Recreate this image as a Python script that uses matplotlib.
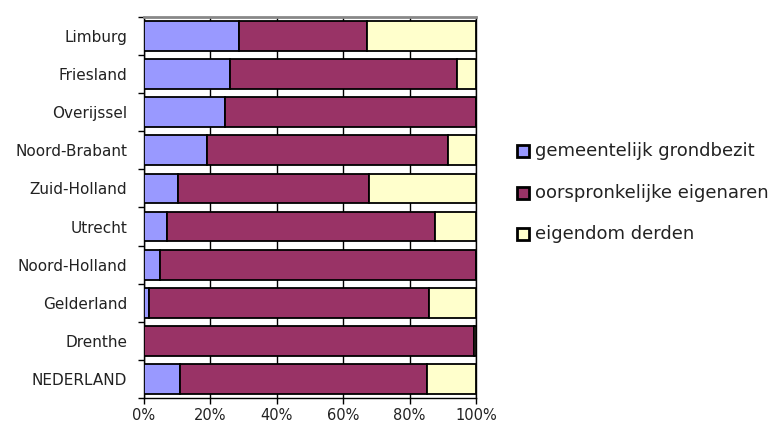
import matplotlib.pyplot as plt
from matplotlib.patches import Rectangle
from matplotlib.ticker import FixedLocator

# provinces, top to bottom as in the chart
provinces = ['Limburg', 'Friesland', 'Overijssel', 'Noord-Brabant', 'Zuid-Holland',
             'Utrecht', 'Noord-Holland', 'Gelderland', 'Drenthe', 'NEDERLAND']

# shares in percent
gemeentelijk = [28.5, 26.0, 24.5, 19.0, 10.3, 7.0, 4.8, 1.5, 0.0, 10.8]
oorspronkelijk = [38.8, 68.2, 75.5, 72.7, 57.6, 80.7, 95.2, 84.3, 99.3, 74.3]
derden = [32.7, 5.8, 0.0, 8.3, 32.1, 12.3, 0.0, 14.2, 0.7, 14.9]

series_labels = ['gemeentelijk grondbezit', 'oorspronkelijke eigenaren', 'eigendom derden']
colors = ['#9999FF', '#993366', '#FFFFCC']
xticks = [0, 20, 40, 60, 80, 100]

plt.rcParams['font.family'] = ['DejaVu Sans']

W, H = 784, 430
fig = plt.figure(figsize=(W / 100, H / 100), dpi=100)
ax = fig.add_axes([144 / W, 1 - 398 / H, 332 / W, 381 / H])

y = list(range(len(provinces)))
left = [0.0] * len(provinces)
for vals, col in zip([gemeentelijk, oorspronkelijk, derden], colors):
    ax.barh(y, vals, left=left, height=0.78, color=col, edgecolor='black',
            linewidth=1.3, zorder=3)
    left = [a + b for a, b in zip(left, vals)]

ax.set_xlim(0, 100)
ax.set_ylim(len(provinces) - 0.5, -0.5)

ax.xaxis.grid(True, color='black', linewidth=1.0, zorder=0)
ax.set_axisbelow(True)

ax.set_xticks(xticks)
ax.set_xticklabels([f'{t}%' for t in xticks], fontsize=10.5, color='#222222')
ax.set_yticks(y)
ax.set_yticklabels(provinces, fontsize=11, color='#222222')
ax.tick_params(axis='y', which='major', length=0, pad=12)
ax.yaxis.set_minor_locator(FixedLocator([i - 0.5 for i in range(len(provinces) + 1)]))
ax.tick_params(axis='y', which='minor', length=4, width=1.0, direction='out')
ax.tick_params(axis='x', length=4, width=1.0, direction='out', pad=3)

ax.spines['top'].set_color('#888888')
ax.spines['top'].set_linewidth(2)
for s in ['left', 'bottom', 'right']:
    ax.spines[s].set_color('black')
    ax.spines[s].set_linewidth(1.0)

# legend, drawn by hand to match the spacing of the original
for i, (lab, col) in enumerate(zip(series_labels, colors)):
    yc = 151 + i * 41.5
    fig.add_artist(Rectangle((517 / W, 1 - (yc + 6) / H), 12 / W, 12 / H,
                             facecolor=col, edgecolor='black', linewidth=2,
                             transform=fig.transFigure))
    fig.text(535 / W, 1 - yc / H, lab, fontsize=13, va='center', ha='left',
             color='#222222')

fig.savefig('out.png', dpi=100)
